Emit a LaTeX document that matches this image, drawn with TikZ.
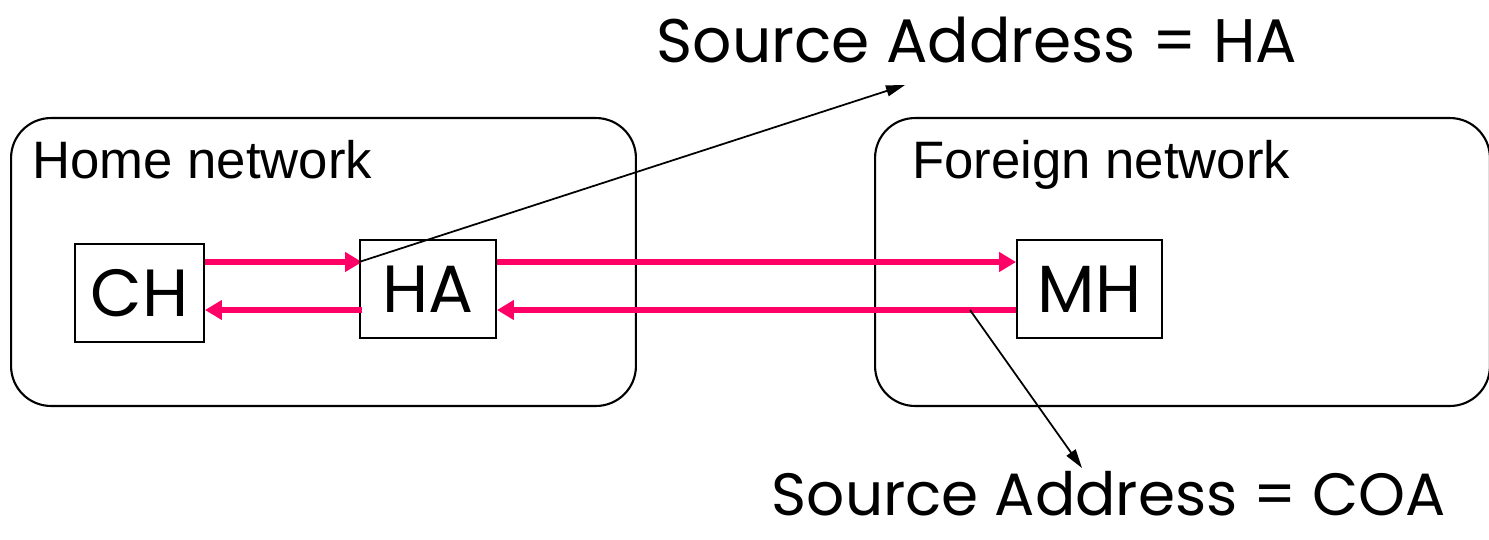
\documentclass[tikz,border=0pt]{standalone}
\usepackage{fontspec}
\setmainfont{Liberation Sans}
\newfontfamily\handfont{Poppins}
\usetikzlibrary{arrows.meta}
\definecolor{pkt}{RGB}{255,0,102}
\newcommand{\netfont}{\fontsize{30}{36}\selectfont}
\newcommand{\hostfont}{\handfont\fontsize{38}{44}\selectfont}
\newcommand{\notefont}{\handfont\fontsize{35}{42}\selectfont}

\begin{document}
\begin{tikzpicture}[x=0.02cm,y=-0.02cm,
    net/.style={draw,line width=1.2pt,rounded corners=0.8cm,minimum height=5.76cm},
    host/.style={draw,line width=1.1pt,minimum height=1.96cm,inner sep=0pt,font=\hostfont},
    flow/.style={draw=pkt,line width=3.4pt,-{Triangle[length=0.34cm,width=0.38cm]}},
    note/.style={line width=1pt,-{Triangle[length=0.38cm,width=0.22cm]}}]
  \useasboundingbox (0,0) rectangle (1489,539);
  \node[net,minimum width=12.5cm] (home) at (323.5,262) {};
  \node[net,minimum width=12.3cm] (foreign) at (1182.5,262) {};
  \node[anchor=base west,inner sep=0pt,font=\netfont] (homelbl) at (32,178) {Home network};
  \node[anchor=base west,inner sep=0pt,font=\netfont] (forlbl) at (912,178) {Foreign network};
  \node[host,minimum width=2.58cm] (CH) at (139.5,293) {CH};
  \node[host,minimum width=2.72cm] (HA) at (428,289) {HA};
  \node[host,minimum width=2.9cm] (MH) at (1089.5,289) {MH};
  \coordinate (up) at (0,262);
  \coordinate (dn) at (0,310);
  \coordinate (tap) at (970,310);
  \coordinate (hatip) at (905,85);
  \coordinate (coatip) at (1082,468);
  \node[anchor=base,inner sep=0pt,font=\notefont] (srcha) at (977,62) {Source Address = HA};
  \node[anchor=base,inner sep=0pt,font=\handfont\fontsize{34}{40}\selectfont] (srccoa) at (1109,515) {Source Address = COA};
  \draw[flow] (CH.east |- up) -- ([xshift=0.06cm]HA.west |- up);
  \draw[flow] (HA.east |- up) -- (MH.west |- up);
  \draw[flow] (MH.west |- dn) -- (HA.east |- dn);
  \draw[flow] ([xshift=0.06cm]HA.west |- dn) -- (CH.east |- dn);
  \draw[note] (HA.west |- up) -- (hatip);
  \draw[note] (tap) -- (coatip);
\end{tikzpicture}
\end{document}
